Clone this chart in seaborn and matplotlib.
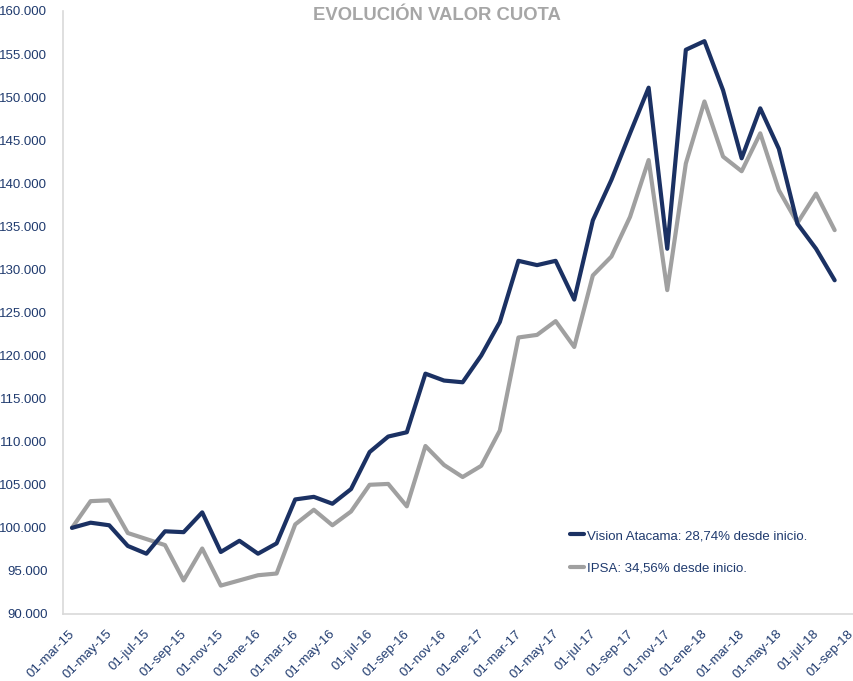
import numpy as np
import pandas as pd
import seaborn as sns
import matplotlib.pyplot as plt
from matplotlib.ticker import FuncFormatter
from matplotlib.transforms import ScaledTranslation

# monthly values, 01-mar-15 .. 01-ago-18 (base 100.000)
vision_atacama = [
    100000, 100600, 100300, 97900, 97000, 99600, 99500, 101800, 97200, 98500,
    97000, 98200, 103300, 103600, 102800, 104500, 108800, 110600, 111100, 117900,
    117100, 116900, 120000, 123900, 131000, 130500, 131000, 126500, 135700, 140400,
    145800, 151100, 132400, 155500, 156500, 150800, 142900, 148700, 144000, 135300,
    132400, 128740,
]
ipsa = [
    100000, 103100, 103200, 99400, 98700, 98000, 93900, 97600, 93300, 93900,
    94500, 94700, 100400, 102100, 100300, 101900, 105000, 105100, 102500, 109500,
    107300, 105900, 107200, 111300, 122100, 122400, 124000, 121000, 129300, 131500,
    136100, 142700, 127600, 142300, 149500, 143100, 141400, 145800, 139200, 135400,
    138800, 134560,
]
tick_labels = [
    "01-mar-15", "01-may-15", "01-jul-15", "01-sep-15", "01-nov-15", "01-ene-16",
    "01-mar-16", "01-may-16", "01-jul-16", "01-sep-16", "01-nov-16", "01-ene-17",
    "01-mar-17", "01-may-17", "01-jul-17", "01-sep-17", "01-nov-17", "01-ene-18",
    "01-mar-18", "01-may-18", "01-jul-18", "01-sep-18",
]
series_names = ["Vision Atacama: 28,74% desde inicio.", "IPSA: 34,56% desde inicio."]

navy = "#1B3163"
grey = "#A0A0A0"
text_col = "#1F3A6E"

n = len(vision_atacama)
df = pd.DataFrame({
    "mes": list(range(n)) * 2,
    "valor": vision_atacama + ipsa,
    "serie": [series_names[0]] * n + [series_names[1]] * n,
})

sns.set_style("white")
plt.rcParams["font.family"] = ["Liberation Sans", "DejaVu Sans"]

fig = plt.figure(figsize=(8.54, 6.81), dpi=100)
ax = fig.add_axes([62.7 / 854, 1 - 614 / 681, 1 - 62.7 / 854, (614 - 11) / 681])

sns.lineplot(data=df, x="mes", y="valor", hue="serie",
             palette={series_names[0]: navy, series_names[1]: grey},
             hue_order=[series_names[1], series_names[0]],
             linewidth=3.0, ax=ax, legend=False)

ax.set_xlim(-0.5, 42.04)
ax.set_ylim(90000, 160000)
ax.set_yticks(np.arange(90000, 160001, 5000))
ax.yaxis.set_major_formatter(FuncFormatter(lambda v, p: f"{int(v):,}".replace(",", ".")))
ax.tick_params(axis="y", length=0, labelsize=9.5, labelcolor=text_col, pad=11)

# ticks between categories, labels on every second category
ax.set_xticks(np.arange(-0.5, 42.5, 2), minor=False)
ax.set_xticklabels([""] * len(ax.get_xticks()))
ax.set_xticks(np.arange(0, 2 * len(tick_labels), 2), minor=True)
ax.set_xticklabels(tick_labels, minor=True, rotation=45, ha="right",
                   rotation_mode="anchor")
ax.tick_params(axis="x", which="major", length=5, color="#D0D0D0", direction="out")
ax.tick_params(axis="x", which="minor", length=0, labelsize=9.5,
               labelcolor=text_col, pad=10)
xlabels = ax.get_xticklabels(minor=True)
for i, lbl in enumerate(xlabels):
    dx = -6 if i == len(xlabels) - 1 else -3
    lbl.set_transform(lbl.get_transform() + ScaledTranslation(dx / 100, 0, fig.dpi_scale_trans))
ax.set_xlabel("")
ax.set_ylabel("")

for s in ["top", "right"]:
    ax.spines[s].set_visible(False)
for s in ["left", "bottom"]:
    ax.spines[s].set_color("#D9D9D9")
    ax.spines[s].set_linewidth(1.2)

handles = [plt.Line2D([], [], color=navy, lw=3.0),
           plt.Line2D([], [], color=grey, lw=3.0)]
leg = fig.legend(handles, series_names, loc="upper left",
                 bbox_to_anchor=(558 / 854, 1 - 518 / 681), frameon=False,
                 handlelength=1.1, handletextpad=0.2, labelspacing=1.55,
                 fontsize=9.5)
for t in leg.get_texts():
    t.set_color(text_col)

fig.text(437 / 854, 1 - 16 / 681, "EVOLUCIÓN VALOR CUOTA", ha="center", va="center",
         fontsize=13.3, fontweight="bold", color="#A6A6A6")

fig.savefig("out.png", dpi=100)
